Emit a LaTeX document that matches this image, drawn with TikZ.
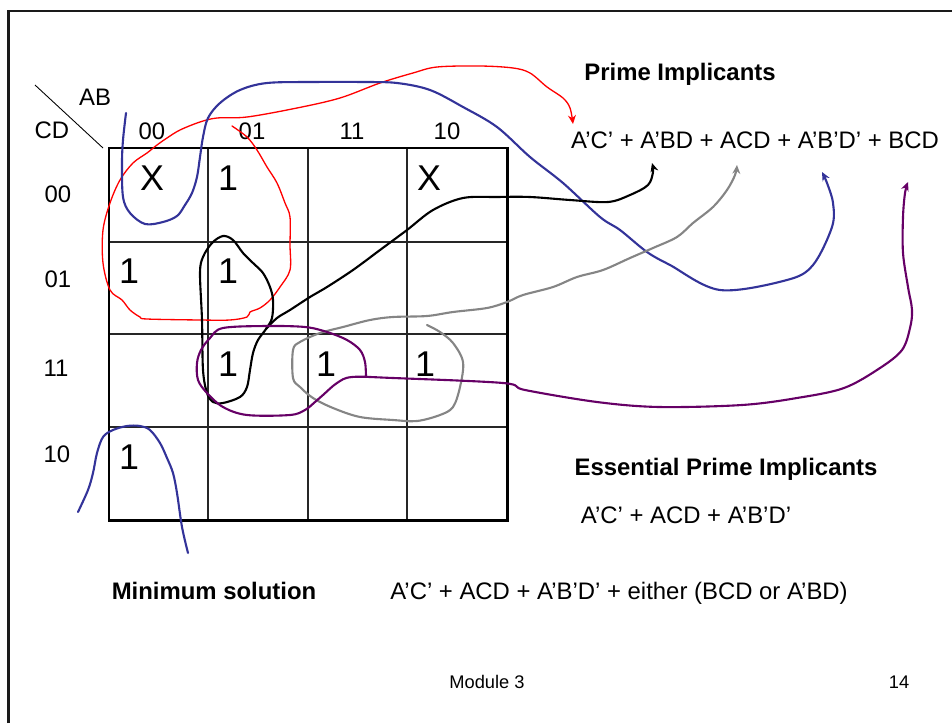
\documentclass[tikz,border=0pt]{standalone}
\usepackage{fontspec}
\setmainfont{Liberation Sans}
\usetikzlibrary{arrows.meta}
\definecolor{penblue}{HTML}{333399}
\definecolor{pengray}{HTML}{858585}
\definecolor{penpurple}{HTML}{660066}
\definecolor{framegray}{HTML}{1A1A1A}
\begin{document}
\begin{tikzpicture}[x=0.02cm,y=-0.02cm,
  txt/.style={font=\fontsize{13.6}{16}\selectfont, inner sep=0pt, anchor=base},
  btxt/.style={txt, font=\fontsize{13.6}{16}\selectfont\bfseries},
  big/.style={font=\fontsize{20.4}{24}\selectfont, inner sep=0pt, anchor=base},
  small/.style={font=\fontsize{10.4}{12}\selectfont, inner sep=0pt, anchor=base},
  pen/.style={line width=1.2pt, line join=round, line cap=round},
  tipp/.style={-{Stealth[length=5pt,width=4.5pt]}},
]
\useasboundingbox (0,0) rectangle (952,723);
% slide frame
\draw[line width=1.7pt, framegray] (8.5,723) -- (8.5,11) -- (952,11);

% K-map grid
\draw[line width=0.6pt, black!85]
  (208,148) -- (208,520) (308,148) -- (308,520) (407,148) -- (407,520)
  (109,242) -- (507,242) (109,334) -- (507,334) (109,427) -- (507,427);
\draw[line width=1.7pt] (109,148) rectangle (507,520);
\draw[line width=0.5pt] (35,85) -- (103,148);

% axis labels
\node[txt] (ab) at (95,105) {AB};
\node[txt] (cd) at (52,138) {CD};
\node[txt] (c00) at (152,139) {00};
\node[txt] (c01) at (252,139) {01};
\node[txt] (c11) at (352,139) {11};
\node[txt] (c10) at (447,139) {10};
\node[txt] (r00) at (58,202) {00};
\node[txt] (r01) at (58,287) {01};
\node[txt] (r11) at (56,376) {11};
\node[txt] (r10) at (57,462) {10};

% cell entries
\node[big] (m0) at (152,190) {X};
\node[big] (m4) at (228,190) {1};
\node[big] (m8) at (429,190) {X};
\node[big] (m1) at (129,283) {1};
\node[big] (m5) at (228,283) {1};
\node[big] (m7) at (228,376) {1};
\node[big] (m15) at (326,376) {1};
\node[big] (m11) at (425,376) {1};
\node[big] (m2) at (129,469) {1};

% texts
\node[btxt] (pihead) at (680,81) {Prime Implicants};
\node[txt] (pilist) at (755,148) {A’C’ + A’BD + ACD + A’B’D’ + BCD};
\node[btxt] (epihead) at (726,475) {Essential Prime Implicants};
\node[txt] (epilist) at (686,523) {A’C’ + ACD + A’B’D’};
\node[btxt] (minhead) at (214,599) {Minimum solution};
\node[txt] (minlist) at (619,599) {A’C’ + ACD + A’B’D’ + either (BCD or A’BD)};
\node[small] (module) at (487,688) {Module 3};
\node[small] (page) at (899,688) {14};

% red: A'C'
\draw[pen, line width=0.75pt, red, tipp] plot[smooth, tension=0.55] coordinates {
 (232,126) (247,137) (257,150) (267,167) (277,183) (285,203) (290,217) (290,245)
 (290,270) (280,287) (270,300) (260,308) (250,312) (247,317) (230,320) (200,320)
 (147,319) (140,317) (130,310) (122,300) (110,290) (103,263) (103,230) (110,203)
 (120,180) (133,163) (147,153) (157,145) (167,138) (180,130) (200,122) (217,118)
 (247,117) (297,108) (340,98) (380,83) (413,73) (437,67) (480,66) (513,68)
 (530,73) (547,87) (563,98) (570,108) (573,124)};

% blue: A'B'D'
\draw[pen, penblue, tipp] plot[smooth, tension=0.55] coordinates {
 (126,113) (123,140) (122,163) (123,197) (130,213) (145,224) (163,222) (177,216)
 (185,205) (192,193) (197,177) (200,157) (203,137) (208,118) (220,103) (240,90)
 (267,83) (313,82) (363,82) (397,83) (430,90) (463,107) (497,127) (530,157)
 (563,183) (600,217) (620,230) (647,252) (670,265) (720,290) (787,280) (813,265)
 (832,227) (833,203) (827,183) (822,172)};
\draw[pen, penblue] plot[smooth, tension=0.55] coordinates {
 (78,512) (88,490) (93,473) (97,453) (103,437) (113,430) (127,426) (140,426)
 (150,430) (160,443) (167,458) (173,473) (177,493) (182,527) (188,553)};

% black: A'BD
\draw[pen, black] plot[smooth cycle, tension=0.55] coordinates {
 (273,300) (272,318) (266,329) (258,340) (253,353) (250,370) (247,387) (240,397)
 (223,403) (213,402) (207,393) (203,370) (202,320) (200,273) (203,257) (212,243)
 (223,236) (233,240) (243,253) (253,263) (263,273) (270,287)};
\draw[pen, black, tipp] plot[smooth, tension=0.55] coordinates {
 (266,329) (277,318) (290,310) (310,297) (327,287) (353,270) (380,250) (407,230)
 (433,210) (463,198) (497,197) (530,197) (570,200) (608,202) (630,195) (648,185)
 (653,172) (652,163)};

% gray: ACD
\draw[pen, pengray, tipp] plot[smooth, tension=0.55] coordinates {
 (427,325) (440,332) (453,343) (463,362) (460,387) (453,407) (440,415) (417,421)
 (393,420) (360,417) (333,408) (313,398) (300,387) (293,378) (293,350) (300,342)
 (320,333) (343,327) (370,320) (393,317) (427,316) (453,312) (487,308) (507,302)
 (523,295) (553,287) (577,277) (603,270) (630,258) (653,248) (677,237) (693,223)
 (713,207) (727,190) (735,175) (737,165)};

% purple: BCD
\draw[pen, penpurple, tipp] plot[smooth, tension=0.55] coordinates {
 (366,377) (365,362) (360,350) (347,340) (327,332) (305,327) (267,326) (223,328)
 (210,338) (201,350) (197,363) (198,380) (207,393) (223,407) (247,415) (290,415)
 (305,410) (315,402) (323,395) (337,383) (352,377) (393,378) (503,383) (525,390)
 (597,402) (659,407) (742,405) (797,398) (844,388) (880,368) (902,350) (910,328)
 (912,310) (908,287) (903,253) (903,217) (905,193) (908,182)};
\end{tikzpicture}
\end{document}
